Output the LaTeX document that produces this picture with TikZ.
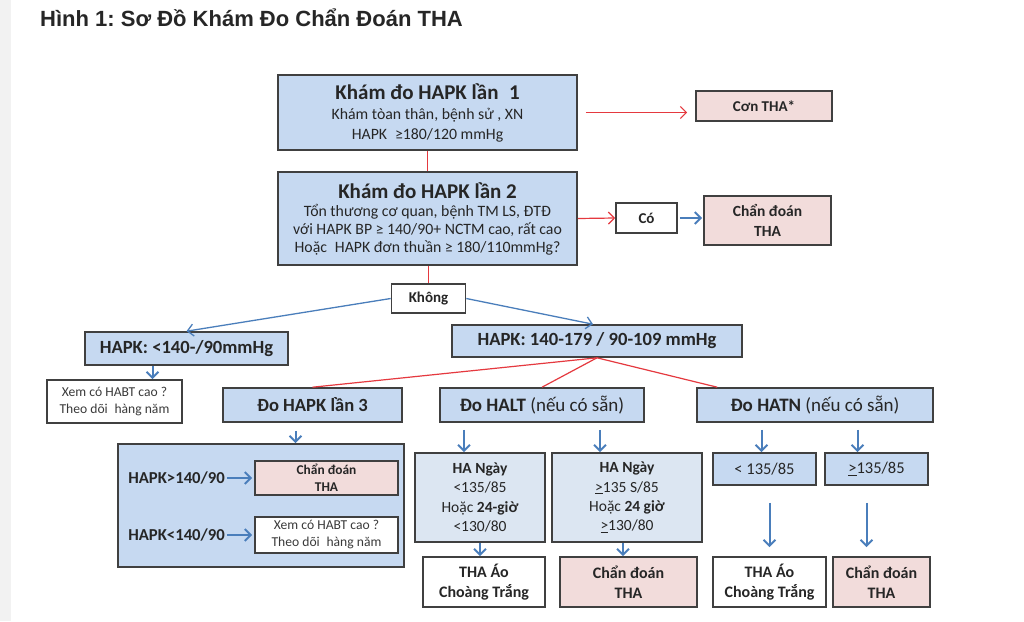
\documentclass[tikz,border=0pt]{standalone}
\usepackage{fontspec}
\setmainfont{Carlito}
\newfontfamily\titlefont{Liberation Sans}
\usetikzlibrary{arrows.meta}
\frenchspacing

\definecolor{boxblue}{HTML}{C6D9F1}
\definecolor{paleblue}{HTML}{DCE6F2}
\definecolor{boxpink}{HTML}{F2DCDB}
\definecolor{edgegray}{HTML}{404040}
\definecolor{redline}{HTML}{E5393F}
\definecolor{bluearrow}{HTML}{4A7EBB}
\definecolor{txtdark}{HTML}{262626}
\definecolor{txtgray}{HTML}{3A3A3A}
\definecolor{stripgray}{HTML}{F2F2F2}

\begin{document}
\begin{tikzpicture}[x=1pt,y=-1pt]
% Styles
\tikzset{
    box/.style={draw=edgegray, line width=1.6pt, align=center, inner sep=0pt, text=txtdark},
    bluebox/.style={box, fill=boxblue},
    palebox/.style={box, fill=paleblue},
    pinkbox/.style={box, fill=boxpink},
    whitebox/.style={box, fill=white},
    redlink/.style={draw=redline, line width=1.2pt},
    redarrow/.style={redlink, -{Straight Barb[length=6pt,width=12pt]}},
    bluearr/.style={draw=bluearrow, line width=2pt, -{Straight Barb[length=6pt,width=12pt]}},
    thinarr/.style={draw=bluearrow, line width=1.3pt, -{Straight Barb[length=6pt,width=12pt]}},
    head/.style={font=\fontsize{18.6}{21}\selectfont\bfseries},
    mid/.style={font=\fontsize{15.5}{19.3}\selectfont},
    small/.style={font=\fontsize{13.6}{17}\selectfont, text=txtgray}
}

% Frame
\useasboundingbox (0,0) rectangle (1024,621);
\fill[white] (0,0) rectangle (1024,621);
\fill[stripgray] (0,0) rectangle (11,621);
\node[anchor=base west, inner sep=0pt, text=txtdark, font=\titlefont\fontsize{22}{24}\selectfont\bfseries] (title) at (40,27) {Hình 1: Sơ Đồ Khám Đo Chẩn Đoán THA};

% Nodes
\node[bluebox, minimum width=299, minimum height=75, font=\fontsize{15.8}{20}\selectfont] (K1) at (427.5,112.5)
    {{\fontsize{21}{22}\selectfont\bfseries Khám đo HAPK lần\enspace 1}\\ Khám tòan thân, bệnh sử , XN\\ HAPK\enspace ≥180/120 mmHg};
\node[bluebox, minimum width=299, minimum height=93, font=\fontsize{15.8}{18}\selectfont] (K2) at (427.5,218.5)
    {{\fontsize{21}{22}\selectfont\bfseries Khám đo HAPK lần 2}\\ Tổn thương cơ quan, bệnh TM LS, ĐTĐ\\ với HAPK BP ≥ 140/90+ NCTM cao, rất cao\\ Hoặc\enspace HAPK đơn thuần ≥ 180/110mmHg?};
\node[pinkbox, minimum width=136, minimum height=30, font=\fontsize{15}{18}\selectfont\bfseries] (con) at (764,106) {Cơn THA*};
\node[whitebox, minimum width=61, minimum height=30, font=\fontsize{15}{18}\selectfont\bfseries] (co) at (646.5,218) {Có};
\node[pinkbox, minimum width=127, minimum height=49, font=\fontsize{15.5}{20}\selectfont\bfseries] (cd1) at (767.5,220.5) {Chẩn đoán\\ THA};
\node[whitebox, minimum width=74, minimum height=29, font=\fontsize{15}{18}\selectfont\bfseries] (khong) at (428.5,298.5) {Không};

\node[bluebox, minimum width=203, minimum height=33, head] (low) at (186.5,348.5) {HAPK: <140-/90mmHg};
\node[bluebox, minimum width=290, minimum height=32, head] (mid) at (597,341) {HAPK: 140-179 / 90-109 mmHg};
\node[whitebox, minimum width=135, minimum height=43, small] (xem1) at (114.5,401.5) {Xem có HABT cao ?\\ Theo dõi\enspace hàng năm};

\node[bluebox, minimum width=179, minimum height=34, head] (lan3) at (312.5,405) {Đo HAPK lần 3};
\node[bluebox, minimum width=204, minimum height=34, font=\fontsize{19}{21}\selectfont] (halt) at (542,405) {\textbf{Đo HALT} (nếu có sẵn)};
\node[bluebox, minimum width=236, minimum height=34, font=\fontsize{19}{21}\selectfont] (hatn) at (815,405) {\textbf{Đo HATN} (nếu có sẵn)};

% HAPK lan 3 block
\node[bluebox, minimum width=286, minimum height=123] (lan3box) at (261,505.5) {};
\node[pinkbox, minimum width=143, minimum height=34, font=\fontsize{13.4}{17}\selectfont\bfseries] (cd2) at (326.5,478) {Chẩn đoán\\ THA};
\node[whitebox, minimum width=143, minimum height=36, small] (xem2) at (326.5,535) {Xem có HABT cao ?\\ Theo dõi\enspace hàng năm};
\node[anchor=east, inner sep=2pt, font=\fontsize{16.7}{19}\selectfont\bfseries, text=txtdark] (gtlbl) at (227,478) {HAPK>140/90};
\node[anchor=east, inner sep=2pt, font=\fontsize{16.7}{19}\selectfont\bfseries, text=txtdark] (ltlbl) at (227,535) {HAPK<140/90};

% HALT block
\node[palebox, minimum width=130, minimum height=89, mid] (day1) at (480,497.5) {\textbf{HA Ngày}\\ <135/85\\ Hoặc \textbf{24-giờ}\\ <130/80};
\node[palebox, minimum width=150, minimum height=89, mid] (day2) at (627,497.5) {\textbf{HA Ngày}\\ \underline{>}135 S/85\\ Hoặc \textbf{24 giờ}\\ \underline{>}130/80};
\node[whitebox, minimum width=122, minimum height=50, font=\fontsize{16}{20}\selectfont\bfseries] (wc1) at (484,582) {THA Áo\\ Choàng Trắng};
\node[pinkbox, minimum width=137, minimum height=50, font=\fontsize{16}{20}\selectfont\bfseries] (cd3) at (628.5,582) {Chẩn đoán\\ THA};

% HATN block
\node[bluebox, minimum width=103, minimum height=32, font=\fontsize{16.5}{19}\selectfont] (lt) at (764.5,469) {< 135/85};
\node[bluebox, minimum width=103, minimum height=32, font=\fontsize{16.5}{19}\selectfont] (ge) at (876.5,469) {\underline{>}135/85};
\node[whitebox, minimum width=113, minimum height=50, font=\fontsize{16}{20}\selectfont\bfseries] (wc2) at (769.5,582) {THA Áo\\ Choàng Trắng};
\node[pinkbox, minimum width=97, minimum height=50, font=\fontsize{16}{20}\selectfont\bfseries] (cd4) at (881.5,582) {Chẩn đoán\\ THA};

% Connections
\draw[redarrow, shorten <=8pt, shorten >=8pt] (K1.east) -- (K1.east -| con.west);
\draw[redlink] (K1.south) -- (K2.north);
\draw[redarrow] (K2.east) -- (co.west);
\draw[bluearr, shorten <=2pt, shorten >=1pt] (co.east) -- (co.east -| cd1.west);
\draw[redlink] (khong.north |- K2.south) -- (khong.north);

\draw[thinarr] (khong.west) -- (low.north);
\draw[thinarr] (khong.east) -- ([xshift=-4pt]mid.north);
\draw[bluearr] ([xshift=38pt]xem1.north |- low.south) -- ([xshift=38pt]xem1.north);

\draw[redlink] (mid.south) -- (lan3.north);
\draw[redlink] (mid.south) -- (halt.north);
\draw[redlink] (mid.south) -- ([xshift=21pt]hatn.north west);

\draw[bluearr, shorten <=8pt] ([xshift=-17pt]lan3.south) -- ([xshift=-17pt]lan3.south |- lan3box.north);
\draw[bluearr, shorten >=2pt] (gtlbl.east) -- (cd2.west);
\draw[bluearr, shorten >=2pt] (ltlbl.east) -- (xem2.west);

\draw[bluearr, shorten <=7pt] ([xshift=-16pt]day1.north |- halt.south) -- ([xshift=-16pt]day1.north);
\draw[bluearr, shorten <=7pt] ([xshift=-27pt]day2.north |- halt.south) -- ([xshift=-27pt]day2.north);
\draw[bluearr] (day1.south) -- (day1.south |- wc1.north);
\draw[bluearr] ([xshift=-4pt]day2.south) -- ([xshift=-4pt]day2.south |- cd3.north);

\draw[bluearr, shorten <=7pt] ([xshift=-3pt]lt.north |- hatn.south) -- ([xshift=-3pt]lt.north);
\draw[bluearr, shorten <=7pt] ([xshift=-19pt]ge.north |- hatn.south) -- ([xshift=-19pt]ge.north);
\draw[bluearr, shorten <=17pt, shorten >=9pt] (wc2.north |- lt.south) -- (wc2.north);
\draw[bluearr, shorten <=17pt, shorten >=9pt] ([xshift=-15pt]cd4.north |- ge.south) -- ([xshift=-15pt]cd4.north);
\end{tikzpicture}
\end{document}
